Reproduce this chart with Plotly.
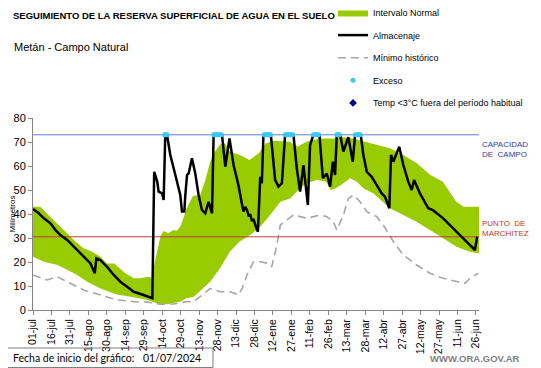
import plotly.graph_objects as go

# ---------------- data ----------------
fecha_inicio = "01/07/2024"
x_fin = 362.5  # last day shown (days since 01-jul)

tick_dias = [0, 15, 30, 45, 60, 75, 90, 105, 120, 135, 150, 165, 180, 195,
             210, 225, 240, 255, 270, 285, 300, 315, 330, 345, 360]
tick_labels = ['01-jul', '16-jul', '31-jul', '15-ago', '30-ago', '14-sep', '29-sep',
               '14-oct', '29-oct', '13-nov', '28-nov', '13-dic', '28-dic', '12-ene',
               '27-ene', '11-feb', '26-feb', '13-mar', '28-mar', '12-abr', '27-abr',
               '12-may', '27-may', '11-jun', '26-jun']

# Intervalo normal: upper edge
sup_dias = [0, 6, 14, 21, 28, 34.5, 41, 48, 55, 60, 66, 69, 75, 82, 87, 94, 97, 98, 101, 103.5,
            106, 110, 114, 117, 120, 125, 130, 136, 140, 144, 148, 152, 156, 160, 168, 176, 184, 189, 195, 209,
            215, 222, 233, 245, 250, 260, 270, 280, 290, 301, 312, 323, 333, 344, 350, 362.5]
sup_vals = [43, 43, 38.9, 35.4, 32, 28.5, 25.7, 24.3, 22.2, 19.4, 19.4, 18, 15.3, 13.2, 13.2, 13.9, 13.2, 17.4, 24.3, 30.5,
            32.9, 32, 33.3, 33, 35, 42.4, 47.5, 48, 54, 61.8, 66, 69, 69.5, 66, 64.6, 62.5, 65.5, 69.4, 70.5, 70.1,
            68, 70.1, 71.5, 71.5, 72.2, 71.5, 70.1, 68.75, 67.4, 64.6, 61.1, 56.25, 53.5, 45.1, 43, 43]
# Intervalo normal: lower edge
inf_dias = [0, 9, 20, 28, 36, 44, 55, 68, 82, 93, 103, 109, 115, 120, 125, 130.5, 136, 144, 152, 160,
            168, 176.5, 184.7, 192.8, 201, 209, 215.7, 222.6, 230.7, 238, 242, 246, 250, 257.7, 263, 268.5,
            276.6, 290, 301, 311.8, 322.6, 333.4, 344.3, 355, 362.5]
inf_vals = [22.2, 20.1, 18.75, 16.7, 14.6, 11.8, 9, 6.5, 5.3, 4.2, 2.4, 2.4, 3, 3.5, 5, 5.4, 8, 11.8, 17.4, 24.3,
            28.5, 31.2, 34.7, 39.6, 45.1, 46.5, 50, 52.8, 54.2, 53.5, 50, 50.7, 52, 54.9, 53.5, 50.7,
            48.6, 42.4, 39.6, 36.8, 33.3, 29.9, 26.4, 24.3, 23.6]

# Minimo historico
min_dias = [0, 11.5, 19.6, 27.8, 41.2, 54.8, 68.3, 81.8, 92.7, 103.5, 114.3, 125.2, 130.5, 137, 144.1,
            152.2, 160.3, 167, 170, 173.9, 179.2, 184.7, 191.4, 194, 198.2, 201, 204.9, 211.7, 217.1, 222.6,
            227.9, 233.4, 238.8, 244.2, 246.9, 252.3, 256.3, 260.4, 265.8, 271.3, 279.4, 284.7, 292.9, 301,
            311.8, 322.6, 333.4, 344.3, 351.1, 355.1, 361.9]
min_vals = [14.6, 12.5, 13.9, 11.8, 8.3, 6.25, 4.2, 3.5, 3.3, 2.4, 2.5, 3.5, 3.5, 6, 9,
            7.6, 7.6, 6.25, 9, 14.6, 20.1, 20.1, 19.4, 18, 27, 35.4, 36.8, 39.6, 38.9, 38.2,
            38.9, 39.6, 38.9, 36.8, 33.3, 39.6, 46.5, 47.9, 45.1, 41, 38.9, 35.4, 28.5, 22.9,
            18.75, 15.3, 13.2, 11.8, 11.1, 13.2, 15.3]

# Almacenaje
alm_dias = [0, 4.7, 8.8, 14.2, 18.3, 22.3, 27.8, 33.1, 38.6, 42.6,
            46.7, 50.2, 51.5, 54.8, 60.2, 65.6, 71, 76.5, 81.8, 89.9,
            97, 98.5, 99.5, 101, 102.1, 104.9, 106.2, 107.5, 108.9, 111.6,
            115.7, 119.7, 121.1, 123, 123.8, 125.2, 126.5, 129.2, 131.9, 134.6,
            137.3, 140, 142.7, 145.5, 146.8, 153.6, 156.3, 159.7, 163, 167,
            169.5, 171.1, 172.5, 173.9, 175.5, 176.5, 178, 179.2, 181, 182.8,
            184.7, 186, 187.3, 193.3, 196.8, 199.5, 202.3, 204.9, 211.7, 214.4,
            217.1, 219.8, 223.4, 225.2, 227.9, 232.8, 235.6, 238.8, 241.5, 243.7,
            245.5, 246.9, 249.6, 252.3, 255, 256.3, 259.9, 261.8, 266.4, 268.5,
            271.3, 275.3, 279.4, 283.4, 286.1, 289.6, 291, 292.9, 295, 297.7,
            301, 305, 307.8, 309.7, 314.5, 321.3, 325.3, 333.4, 347, 359.2,
            361]
alm_vals = [42.1, 40.3, 38.2, 36.1, 33.3, 31.2, 29.2, 26.4, 23.6, 21.5,
            19.4, 15.3, 21.5, 20.8, 18, 14.6, 11.8, 9.7, 7.6, 6.25,
            4.9, 57.6, 56, 53.5, 49.3, 48.6, 45.8, 73, 73, 64.6,
            56.25, 47.9, 41, 41, 47.9, 56.25, 56.9, 63.2, 56.9, 47.9,
            41.7, 40.3, 45.1, 40.3, 73, 73, 59.7, 71.5, 60.4, 52,
            45, 41, 43, 41.7, 39, 40, 37, 38, 35, 32.6,
            55.5, 52.8, 73, 73, 54.2, 51.4, 52.8, 73, 73, 59,
            49.3, 60.4, 43.75, 68.75, 73, 73, 54.9, 56.9, 51.4, 61.8,
            56.25, 73, 73, 66, 70.1, 72, 61.8, 73, 73, 64.6,
            57.6, 55.5, 52, 48.6, 47.2, 42.4, 64.6, 61.8, 64.6, 68,
            60.4, 53.5, 50, 54.2, 48.6, 42.4, 41.5, 38.2, 31.2, 25,
            30.5]

# Exceso (days at field capacity)
capacidad_campo = 73
punto_marchitez = 30.5
exceso_dias = [107, 108, 109, 147, 148, 149, 150, 151, 152, 153,
               188, 189, 190, 191, 192, 193, 205, 206, 207, 208, 209, 210, 211,
               228, 229, 230, 231, 232, 247, 248, 249, 262, 263, 264, 265, 266]
exceso_vals = [capacidad_campo] * len(exceso_dias)

# Temp <3 C fuera del periodo habitual: no occurrences
temp_dias = [None]
temp_vals = [None]

# ---------------- figure ----------------
FONT = "Liberation Sans, Arial, sans-serif"
W, H = 541, 368
OFF = 8  # default page margin of the browser around the plot div
# plot area in page pixels: x 33..479, y 118..310
PL, PR, PT, PB = 33, 479, 118, 310
ML, MT = PL - OFF, PT - OFF
MR, MB = W - (PR - OFF), H - (PB - OFF)
PW, PH = PR - PL, PB - PT


def px(xp):
    return (xp - PL) / PW


def py(yp):
    return (PB - yp) / PH


fig = go.Figure()

fig.add_trace(go.Scatter(
    x=sup_dias + inf_dias[::-1], y=sup_vals + inf_vals[::-1],
    fill='toself', fillcolor='#99cc00', mode='lines',
    line=dict(width=0, color='#99cc00'),
    name='Intervalo Normal', legendgroup='g1', legendrank=1, hoverinfo='skip'))

fig.add_trace(go.Scatter(
    x=min_dias, y=min_vals, mode='lines',
    line=dict(color='#a6a6a6', width=1.6, dash='8px,5px'),
    name='Mínimo histórico', legendgroup='g3', legendrank=3))

fig.add_trace(go.Scatter(
    x=[0, x_fin], y=[capacidad_campo, capacidad_campo], mode='lines',
    line=dict(color='#5b84c8', width=1), showlegend=False, hoverinfo='skip'))
fig.add_trace(go.Scatter(
    x=[0, x_fin], y=[punto_marchitez, punto_marchitez], mode='lines',
    line=dict(color='#b8403a', width=1), showlegend=False, hoverinfo='skip'))

fig.add_trace(go.Scatter(
    x=alm_dias, y=alm_vals, mode='lines',
    line=dict(color='black', width=2.5),
    name='Almacenaje', legendgroup='g2', legendrank=2))

fig.add_trace(go.Scatter(
    x=exceso_dias, y=exceso_vals, mode='markers',
    marker=dict(color='#3cc8f0', size=5, symbol='circle'),
    name='Exceso', legendgroup='g4', legendrank=4))

fig.add_trace(go.Scatter(
    x=temp_dias, y=temp_vals, mode='markers',
    marker=dict(color='#00008b', size=6, symbol='diamond'),
    name='Temp <3°C fuera del período habitual', legendgroup='g5', legendrank=5))

fig.update_layout(
    width=W, height=H,
    margin=dict(l=ML, r=MR, t=MT, b=MB, pad=0, autoexpand=False),
    paper_bgcolor='white', plot_bgcolor='white',
    font=dict(family=FONT, size=10, color='black'),
    title=dict(text='<b>SEGUIMIENTO DE LA RESERVA SUPERFICIAL DE AGUA EN EL SUELO</b>',
               x=(13 - OFF) / W, xref='container', xanchor='left',
               y=1 - (16 - OFF) / H, yref='container', yanchor='middle',
               font=dict(family=FONT, size=9.5, color='black')),
    showlegend=True,
    legend=dict(xref='paper', yref='paper', x=px(333), y=py(-2),
                xanchor='left', yanchor='top', tracegroupgap=3.6,
                font=dict(family=FONT, size=9, color='black'),
                bgcolor='rgba(0,0,0,0)', borderwidth=0, itemwidth=30),
    xaxis=dict(range=[0, x_fin], tickvals=tick_dias, ticktext=tick_labels,
               tickangle=-90, ticks='outside', ticklen=4, tickcolor='#868686',
               showline=True, linecolor='#868686', linewidth=1,
               showgrid=False, zeroline=False, automargin=False,
               tickfont=dict(family=FONT, size=10.5, color='black')),
    yaxis=dict(range=[0, 80], dtick=10, tick0=0, ticks='outside', ticklen=4,
               tickcolor='#868686', showline=True, linecolor='#868686', linewidth=1,
               showgrid=False, zeroline=False, automargin=False,
               tickfont=dict(family=FONT, size=11, color='black'),
               title=dict(text='Milímetros', standoff=2,
                          font=dict(family=FONT, size=8, color='black'))),
    annotations=[
        dict(text='Metán - Campo Natural', xref='paper', yref='paper',
             x=px(12), y=py(46.5), xanchor='left', yanchor='middle', showarrow=False,
             font=dict(family=FONT, size=11, color='black')),
        dict(text='CAPACIDAD<br>DE  CAMPO', xref='paper', yref='y',
             x=1, y=capacidad_campo, xanchor='left', yanchor='top', xshift=1, yshift=-3,
             align='left', showarrow=False,
             font=dict(family=FONT, size=8, color='#3a3aa0')),
        dict(text='PUNTO  DE<br>MARCHITEZ', xref='paper', yref='y',
             x=1, y=punto_marchitez, xanchor='left', yanchor='bottom', xshift=1, yshift=-3,
             align='left', showarrow=False,
             font=dict(family=FONT, size=8, color='#c0392b')),
        dict(text='Fecha de inicio del gráfico:', xref='paper', yref='paper',
             x=px(11), y=py(358), xanchor='left', yanchor='middle', showarrow=False,
             font=dict(family='Lato, sans-serif', size=10.5, color='black')),
        dict(text=fecha_inicio, xref='paper', yref='paper',
             x=px(141), y=py(358), xanchor='left', yanchor='middle', showarrow=False,
             font=dict(family='Lato, sans-serif', size=10.5, color='black')),
        dict(text='<b>WWW.ORA.GOV.AR</b>', xref='paper', yref='paper',
             x=px(522), y=py(358), xanchor='right', yanchor='middle', showarrow=False,
             font=dict(family=FONT, size=9.5, color='#7f7f7f')),
    ],
    shapes=[
        dict(type='rect', xref='paper', yref='paper',
             x0=px(5), x1=px(213), y0=py(348), y1=py(367.5),
             line=dict(color='#7f7f7f', width=1), fillcolor='rgba(0,0,0,0)'),
    ],
)

fig.write_html("out.html", config={'displayModeBar': False})
